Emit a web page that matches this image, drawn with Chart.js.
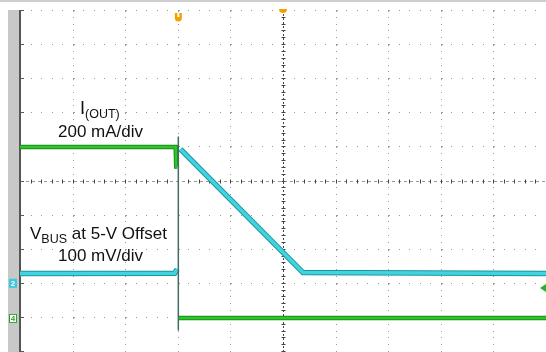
<!DOCTYPE html>
<html>
<head>
<meta charset="utf-8">
<script src="https://cdn.jsdelivr.net/npm/chart.js@4"></script>
<style>
  body { margin: 0; background: #fff; }
  #wrap { position: relative; width: 546px; height: 352px; }
  .lbl { position: absolute; font-family: "Liberation Sans", Arial, sans-serif; font-size: 17px; color: #111; white-space: nowrap; line-height: 1; }
  .lbl sub { font-size: 12.5px; vertical-align: -4px; }
</style>
</head>
<body>
<div id="wrap">
  <canvas id="scope" width="546" height="352"></canvas>
  <div class="lbl" style="left:80px;top:99px;font-size:18px">I<sub>(OUT)</sub></div>
  <div class="lbl" style="left:58px;top:123px">200 mA/div</div>
  <div class="lbl" style="left:30px;top:225px">V<sub>BUS</sub> at 5-V Offset</div>
  <div class="lbl" style="left:58px;top:247px">100 mV/div</div>
</div>
<script>
// time axis in divisions (0..10), amplitude in divisions (-5..5, 0 = screen centre)
const iOutTime  = [0, 2.96, 2.97, 2.99, null, 3.01, 10];
const iOutLevel = [0.98, 0.98, 0.41, 0.41, null, -4.03, -4.03];

const vBusTime  = [0, 2.94, 2.99, null, 3.05, 5.38, 10];
const vBusLevel = [-2.73, -2.72, -2.6, null, 0.92, -2.70, -2.73];

const stepTime  = [3.01, 3.01];
const stepLevel = [1.29, -4.40];

const toPoints = (xs, ys) => xs.map((x, i) => x === null ? {x: NaN, y: NaN} : {x: x, y: ys[i]});

const scopeGrid = {
  id: 'scopeGrid',
  beforeDatasetsDraw(chart) {
    const {ctx, chartArea: a, scales: {x, y}} = chart;
    ctx.save();
    // top bar + left strip
    ctx.fillStyle = '#cfcfcf';
    ctx.fillRect(0, 0, 546, 2);
    ctx.fillStyle = '#c8c8c8';
    ctx.fillRect(8, a.top, 11, chart.height - a.top);

    // dotted graticule
    ctx.fillStyle = '#9a9a9a';
    for (let k = 1; k <= 10; k++) {
      if (k === 5) continue;
      const px = Math.round(x.getPixelForValue(k));
      for (let m = 0; m <= 50; m++) {
        const py = Math.round(y.getPixelForValue(-5 + m * 0.2));
        ctx.fillRect(px, py, 1, m % 5 === 0 ? 2 : 1);
      }
    }
    for (let k = -4; k <= 5; k++) {
      if (k === 0) continue;
      const py = Math.round(y.getPixelForValue(k));
      for (let m = 0; m <= 50; m++) {
        const px = Math.round(x.getPixelForValue(m * 0.2));
        ctx.fillRect(px, py, m % 5 === 0 ? 2 : 1, 1);
      }
    }

    // centre lines
    const cx = Math.round(x.getPixelForValue(5)) + 0.5;
    const cy = Math.round(y.getPixelForValue(0)) + 0.5;
    ctx.strokeStyle = '#444';
    ctx.lineWidth = 1;
    ctx.setLineDash([2, 2]);
    ctx.beginPath();
    ctx.moveTo(cx, a.top); ctx.lineTo(cx, a.bottom);
    ctx.stroke();
    ctx.strokeStyle = '#999';
    ctx.setLineDash([3, 3]);
    ctx.beginPath();
    ctx.moveTo(a.left, cy); ctx.lineTo(a.right, cy);
    ctx.stroke();
    ctx.setLineDash([]);
    ctx.strokeStyle = '#444';
    ctx.beginPath();
    for (let m = 0; m <= 50; m++) {
      const py = Math.round(y.getPixelForValue(-5 + m * 0.2)) + 0.5;
      ctx.moveTo(cx - 2, py); ctx.lineTo(cx + 2, py);
      const px = Math.round(x.getPixelForValue(m * 0.2)) + 0.5;
      ctx.moveTo(px, cy - 2); ctx.lineTo(px, cy + 2);
    }
    ctx.stroke();

    // left frame with ticks
    ctx.strokeStyle = '#555';
    ctx.lineWidth = 2;
    ctx.beginPath();
    ctx.moveTo(a.left, a.top); ctx.lineTo(a.left, chart.height);
    ctx.stroke();
    ctx.lineWidth = 1;
    ctx.beginPath();
    for (let k = -5; k <= 5; k++) {
      const py = Math.round(y.getPixelForValue(k)) + 0.5;
      ctx.moveTo(a.left, py); ctx.lineTo(a.left + 4, py);
    }
    ctx.stroke();
    ctx.restore();
  },
  afterDatasetsDraw(chart) {
    const {ctx, chartArea: a, scales: {x, y}} = chart;
    ctx.save();
    // trigger / position markers
    ctx.fillStyle = '#f5a000';
    const tx = x.getPixelForValue(3.01);
    ctx.beginPath();
    ctx.moveTo(tx - 3.5, 13); ctx.lineTo(tx - 3.5, 18);
    ctx.arc(tx, 18, 3.5, Math.PI, 0, true);
    ctx.lineTo(tx + 3.5, 13);
    ctx.closePath();
    ctx.fill();
    ctx.fillStyle = '#fff';
    ctx.fillRect(tx - 1, 13, 2, 4);
    ctx.fillStyle = '#f5a000';
    ctx.beginPath();
    ctx.arc(x.getPixelForValue(5), a.top - 1, 4, 0, Math.PI);
    ctx.fill();

    // channel ground markers
    ctx.font = 'bold 8px "Liberation Sans", Arial';
    ctx.textAlign = 'center';
    ctx.textBaseline = 'middle';
    const y2 = y.getPixelForValue(-3.0);
    ctx.fillStyle = '#3cc8e0';
    ctx.fillRect(9, y2 - 4, 8, 9);
    ctx.fillStyle = '#fff';
    ctx.fillText('2', 13, y2 + 0.5);
    const y4 = y.getPixelForValue(-4.03);
    ctx.fillStyle = '#fff';
    ctx.fillRect(9, y4 - 4, 8, 9);
    ctx.strokeStyle = '#2aa52a';
    ctx.lineWidth = 1;
    ctx.strokeRect(9.5, y4 - 3.5, 7, 8);
    ctx.fillStyle = '#2aa52a';
    ctx.fillText('4', 13, y4 + 0.5);

    // trigger level arrow at right edge
    const yt = y.getPixelForValue(-3.15);
    ctx.fillStyle = '#22b522';
    ctx.beginPath();
    ctx.moveTo(540, yt); ctx.lineTo(546, yt - 4); ctx.lineTo(546, yt + 4);
    ctx.closePath();
    ctx.fill();
    ctx.restore();
  }
};

new Chart(document.getElementById('scope'), {
  type: 'line',
  data: {
    datasets: [
      { data: toPoints(iOutTime, iOutLevel), borderColor: '#168f16', borderWidth: 4.5, order: 6 },
      { data: toPoints(iOutTime, iOutLevel), borderColor: '#2ec42a', borderWidth: 2.5, order: 5 },
      { data: toPoints(vBusTime, vBusLevel), borderColor: '#1b95a0', borderWidth: 5.5, order: 4 },
      { data: toPoints(vBusTime, vBusLevel), borderColor: '#40d4e0', borderWidth: 3.5, order: 3 },
      { data: toPoints(stepTime, stepLevel), borderColor: '#3d6f60', borderWidth: 1.5, order: 2 }
    ]
  },
  options: {
    responsive: false,
    animation: false,
    spanGaps: false,
    layout: { padding: { left: 20, top: 10, right: 0, bottom: 1 } },
    elements: { point: { radius: 0 }, line: { tension: 0, borderCapStyle: 'butt' } },
    plugins: { legend: { display: false }, tooltip: { enabled: false } },
    scales: {
      x: { type: 'linear', min: 0, max: 10, display: false },
      y: { type: 'linear', min: -5, max: 5, display: false }
    }
  },
  plugins: [scopeGrid]
});
</script>
</body>
</html>
